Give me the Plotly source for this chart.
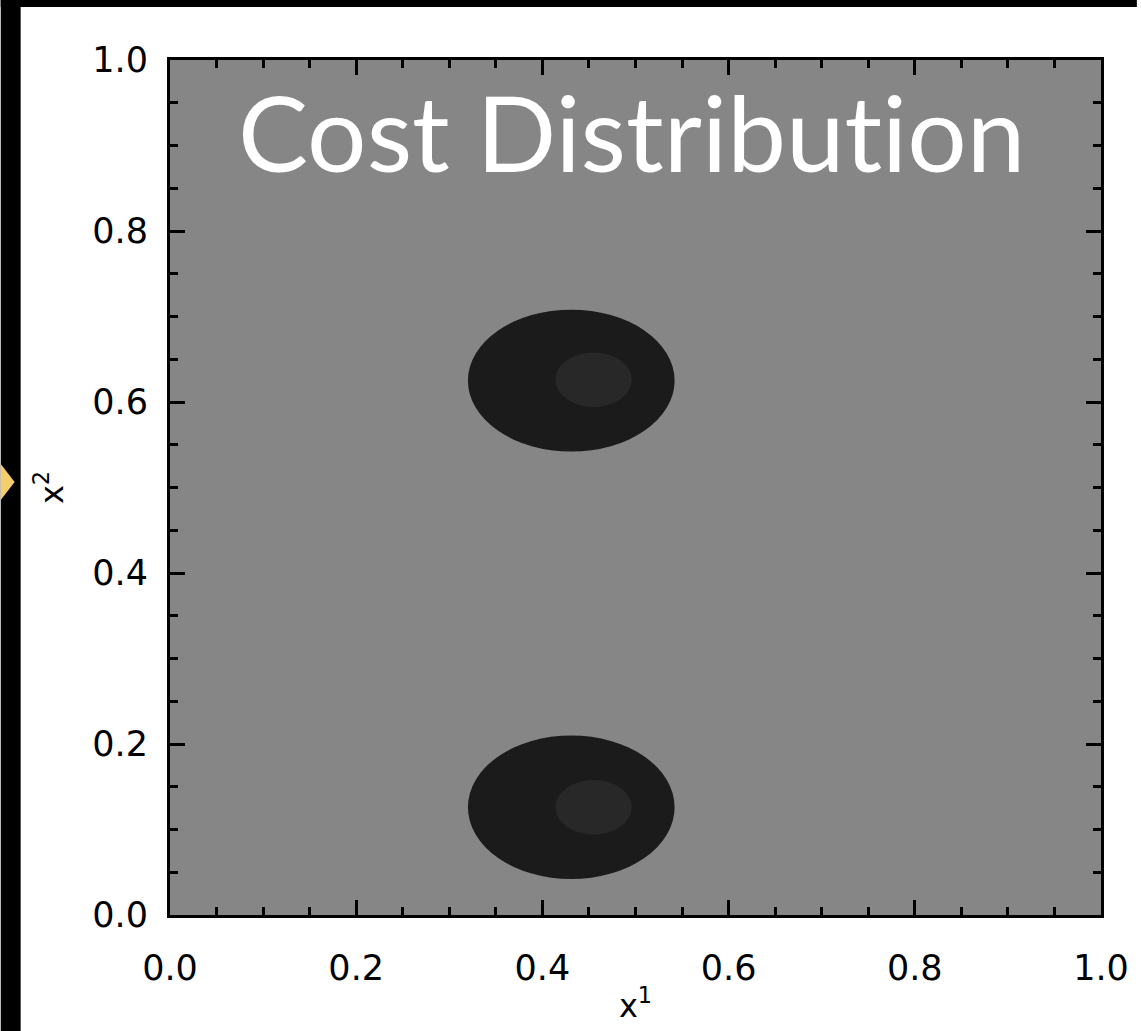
import plotly.graph_objects as go

# Cost distribution: two cost wells, each an outer plateau with a brighter inner core
well_names = ["upper", "lower"]
outer_cx = [0.431, 0.431]
outer_cy = [0.625, 0.126]
outer_rx = [0.111, 0.111]
outer_ry = [0.083, 0.084]
inner_cx = [0.455, 0.455]
inner_cy = [0.626, 0.126]
inner_rx = [0.041, 0.041]
inner_ry = [0.032, 0.032]

x_ticks = [0.0, 0.2, 0.4, 0.6, 0.8, 1.0]
y_ticks = [0.0, 0.2, 0.4, 0.6, 0.8, 1.0]
tick_text = ["0.0", "0.2", "0.4", "0.6", "0.8", "1.0"]

W, H = 1141, 1031
ML, MR, MT, MB = 170, 36, 60, 116
PW, PH = W - ML - MR, H - MT - MB

BG = "#868686"
OUTER = "#1b1b1b"
INNER = "#282828"


def px_x(p):
    return (p - ML) / PW


def px_y(p):
    return (H - MB - p) / PH


fig = go.Figure()
fig.add_trace(go.Scatter(x=[None], y=[None], mode="markers", showlegend=False,
                         hoverinfo="skip"))

shapes = []
# black strips along the left and top edges of the page
shapes.append(dict(type="rect", xref="paper", yref="paper",
                   x0=px_x(0), x1=px_x(20), y0=px_y(H), y1=px_y(0),
                   fillcolor="black", line_width=0, layer="below"))
shapes.append(dict(type="rect", xref="paper", yref="paper",
                   x0=px_x(0), x1=px_x(W), y0=px_y(7), y1=px_y(0),
                   fillcolor="black", line_width=0, layer="below"))
# yellow pointer on the black strip
shapes.append(dict(type="path", xref="paper", yref="paper",
                   path=(f"M {px_x(0)},{px_y(464)} L {px_x(14)},{px_y(482)} "
                         f"L {px_x(0)},{px_y(500)} Z"),
                   fillcolor="#f4cd6c", line_width=0, layer="above"))

for i in range(len(well_names)):
    shapes.append(dict(type="circle", xref="x", yref="y",
                       x0=outer_cx[i] - outer_rx[i], x1=outer_cx[i] + outer_rx[i],
                       y0=outer_cy[i] - outer_ry[i], y1=outer_cy[i] + outer_ry[i],
                       fillcolor=OUTER, line_width=0, layer="below"))
    shapes.append(dict(type="circle", xref="x", yref="y",
                       x0=inner_cx[i] - inner_rx[i], x1=inner_cx[i] + inner_rx[i],
                       y0=inner_cy[i] - inner_ry[i], y1=inner_cy[i] + inner_ry[i],
                       fillcolor=INNER, line_width=0, layer="below"))

axis_common = dict(
    range=[0, 1], showgrid=False, zeroline=False,
    showline=True, linecolor="black", linewidth=3, mirror="ticks",
    ticks="inside", ticklen=15, tickwidth=2.5, tickcolor="black",
    minor=dict(dtick=0.05, ticks="inside", ticklen=8, tickwidth=2.5,
               tickcolor="black", showgrid=False),
    tickfont=dict(family="DejaVu Sans", size=35, color="black"),
    fixedrange=True,
)

# plain glyphs for the heading, without the "ti" ligature
title_text = ("<span style=\"font-variant-ligatures:none;"
              "font-feature-settings:'liga' 0\">Cost Distribution</span>")

fig.update_layout(
    width=W, height=H,
    margin=dict(l=ML, r=MR, t=MT, b=MB, pad=0),
    paper_bgcolor="white",
    plot_bgcolor=BG,
    shapes=shapes,
    showlegend=False,
    xaxis=dict(axis_common, tickvals=x_ticks, ticktext=tick_text,
               ticklabelstandoff=20,
               title=dict(text="x<sup>1</sup>", standoff=8,
                          font=dict(family="DejaVu Sans", size=32, color="black"))),
    yaxis=dict(axis_common, tickvals=y_ticks, ticktext=tick_text,
               ticklabelstandoff=12,
               title=dict(text="x<sup>2</sup>", standoff=20,
                          font=dict(family="DejaVu Sans", size=32, color="black"))),
    annotations=[dict(
        text=title_text, xref="paper", yref="paper",
        x=px_x(236), y=px_y(131), xanchor="left", yanchor="middle",
        showarrow=False,
        font=dict(family="Lato", size=105, color="white"),
    )],
)

fig.write_html("out.html")
